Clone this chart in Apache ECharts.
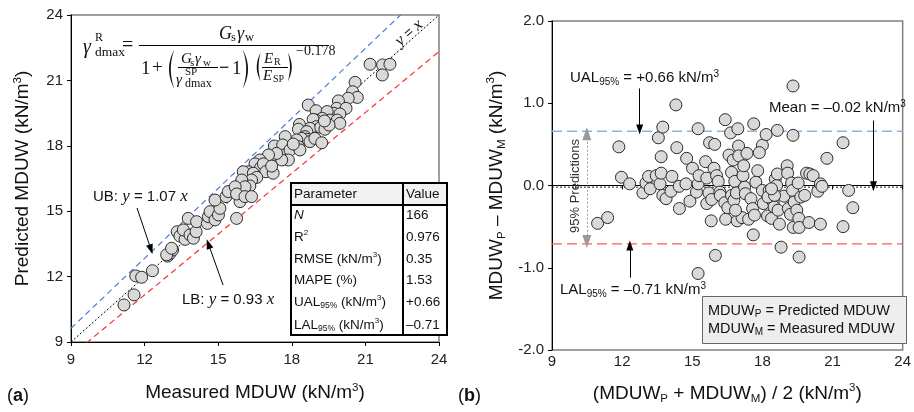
<!DOCTYPE html>
<html>
<head>
<meta charset="utf-8">
<script src="https://cdn.jsdelivr.net/npm/echarts@6/dist/echarts.min.js"></script>
<style>
  html, body { margin: 0; padding: 0; background: #fff; }
  #chart { width: 914px; height: 412px; }
</style>
</head>
<body>
<div id="chart"></div>
<script>
// ---- (a) predicted vs measured MDUW (kN/m3) ----
const measured = [
  11.16, 11.57, 11.64, 11.88, 12.32, 12.94, 13.04, 13.14, 12.90, 13.10,
  13.33, 13.44, 13.65, 13.58, 13.78, 13.85, 13.99, 14.10, 14.12, 14.56,
  14.60, 14.67, 14.87, 15.01, 15.07, 14.87, 15.32, 15.41, 15.75, 15.89,
  21.19, 21.70, 22.00, 21.69, 20.58, 20.48, 20.67, 20.30, 19.90, 19.83,
  20.21, 19.72, 19.96, 18.67, 18.99, 19.08, 19.44, 19.55, 19.85, 19.96,
  19.24, 18.98, 18.87, 19.01, 18.74, 18.31, 18.27, 18.61, 19.18, 19.35,
  19.52, 19.33, 18.54, 18.61, 18.40, 18.20, 18.74, 18.94, 19.22, 17.73,
  17.29, 17.63, 17.68, 17.93, 18.27, 18.33, 18.06, 17.86, 17.59, 17.11,
  17.38, 17.05, 16.70, 16.50, 16.23, 16.02, 16.73, 16.84, 16.94, 17.24,
  17.18, 16.43, 16.57, 16.36, 16.29, 15.96, 16.09, 15.69, 15.75, 16.09,
  16.36
];
const predicted = [
  10.70, 11.16, 12.03, 11.97, 12.27, 12.94, 13.07, 13.22, 13.00, 13.30,
  14.06, 13.86, 13.71, 14.14, 14.67, 13.91, 13.76, 14.06, 14.52, 14.44,
  14.75, 14.98, 14.60, 14.83, 15.13, 15.51, 15.67, 15.90, 14.67, 15.44,
  21.74, 21.71, 21.74, 21.25, 20.91, 20.48, 20.22, 20.18, 20.06, 19.72,
  19.72, 19.49, 19.46, 19.87, 19.61, 19.11, 19.57, 19.18, 19.18, 19.03,
  19.26, 19.18, 19.21, 18.88, 18.80, 18.98, 18.76, 18.65, 18.85, 18.76,
  18.95, 19.14, 18.42, 18.30, 18.34, 18.27, 18.19, 18.34, 18.14, 18.42,
  17.99, 18.04, 17.58, 17.81, 17.96, 17.81, 18.08, 17.35, 17.35, 17.43,
  17.65, 17.58, 17.35, 17.17, 16.81, 16.81, 17.00, 17.17, 16.81, 16.74,
  17.07, 16.74, 16.55, 16.43, 16.16, 16.43, 16.12, 16.12, 15.79, 15.67,
  15.67
];
const upperSlope = 1.07;   // UB: y = 1.07x
const lowerSlope = 0.93;   // LB: y = 0.93x

// ---- (b) difference vs mean of predicted and measured ----
const avgMDUW = [
  11.86, 13.55, 13.74, 14.30, 14.34, 15.25, 15.74, 15.96, 16.41, 16.64,
  16.95, 16.98, 17.63, 18.00, 18.16, 18.64, 19.31, 19.31, 21.45,
  10.95, 11.38, 11.97, 12.32, 12.89, 13.02, 13.13, 13.20, 13.46, 13.62,
  13.67, 13.67, 13.74, 13.88, 14.09, 14.13, 14.44, 14.45, 14.76, 14.73,
  14.90, 15.01, 15.18, 15.25, 15.29, 15.25, 15.57, 15.62, 15.62, 15.71,
  15.81, 15.83, 15.93, 15.99, 16.04, 16.11, 16.18, 16.20, 16.43, 16.39,
  16.52, 16.57, 16.68, 16.75, 16.68, 16.78, 16.82, 16.89, 16.92, 16.99,
  17.13, 17.17, 17.20, 17.24, 17.27, 17.34, 17.41, 17.51, 17.58, 17.61,
  17.66, 17.72, 17.80, 17.87, 18.00, 18.04, 18.22, 18.29, 18.39, 18.46,
  18.50, 18.55, 18.61, 18.64, 18.67, 18.73, 18.80, 18.92, 19.06, 19.08,
  19.11, 19.20, 19.25, 19.29, 19.32, 19.36, 19.47, 19.53, 19.56, 19.57,
  19.57, 19.64, 19.81, 19.89, 20.03, 20.17, 19.99, 20.37, 20.48, 20.55,
  20.48, 20.76, 21.45, 21.69, 21.87, 16.85, 18.24, 18.52, 18.39
];
const diffMDUW = [
  0.47, 0.58, 0.71, 0.98, 0.46, 0.69, 0.52, 0.50, 0.80, 0.64,
  0.69, 0.48, 0.75, 0.49, 0.62, 0.67, 1.21, 0.61, 0.52,
  -0.46, -0.39, 0.10, 0.02, -0.09, 0.03, 0.11, -0.04, 0.12, 0.02,
  0.35, 0.15, -0.12, -0.16, -0.07, 0.11, -0.01, -0.28, 0.33, 0.02,
  -0.19, 0.21, -0.08, 0.02, 0.12, -1.07, 0.29, 0.09, -0.22, -0.09,
  -0.43, -0.17, 0.21, -0.85, 0.12, 0.05, -0.08, -0.12, -0.41, -0.21,
  -0.27, 0.37, 0.16, 0.31, -0.12, -0.18, 0.05, -0.09, -0.43, 0.36,
  -0.39, 0.12, 0.24, -0.02, -0.10, 0.39, -0.41, -0.16, -0.28, -0.60,
  -0.36, 0.04, 0.18, 0.40, -0.06, -0.22, -0.37, -0.06, -0.40, -0.20,
  -0.26, 0.08, 0.00, 0.14, -0.30, -0.47, -0.75, -0.13, 0.24, 0.15,
  -0.28, -0.35, 0.03, -0.06, -0.51, -0.20, -0.30, 0.03, -0.40, -0.51,
  -0.87, -0.14, -0.12, 0.15, 0.14, 0.12, -0.45, -0.07, 0.02, -0.01,
  -0.47, 0.33, -0.50, -0.06, -0.27, -0.30, -0.14, -0.12, -0.04
];
const meanDiff = -0.02;
const upperAgreement = 0.66;
const lowerAgreement = -0.71;

// ---- statistics table ----
const tableParams = ['{i|N}', 'R{sup|2}', 'RMSE (kN/m{sup|3})', 'MAPE (%)',
                     'UAL{sub|95%} (kN/m{sup|3})', 'LAL{sub|95%} (kN/m{sup|3})'];
const tableValues = ['166', '0.976', '0.35', '1.53', '+0.66', '\u20130.71'];

const SANS = 'Liberation Sans, Arial, sans-serif';
const SERIF = 'Liberation Serif, Times New Roman, serif';

const zip = (a, b) => a.map((v, i) => [v, b[i]]);
const axisMin = 9, axisMax = 24;

const chart = echarts.init(document.getElementById('chart'), null, { renderer: 'canvas' });

function axisCommon(extra) {
  return Object.assign({
    axisLine: { show: true, lineStyle: { color: '#000', width: 1 } },
    axisTick: { show: true, inside: false, length: 4, lineStyle: { color: '#000' } },
    splitLine: { show: false },
    axisLabel: { fontFamily: SANS, fontSize: 15, color: '#222' },
    nameLocation: 'middle',
    nameTextStyle: {
      fontFamily: SANS, fontSize: 19, color: '#111',
      rich: {
        sup: { fontSize: 11.5, verticalAlign: 'top', lineHeight: 21, fontFamily: SANS, color: '#111' },
        sub: { fontSize: 11.5, verticalAlign: 'bottom', lineHeight: 23, fontFamily: SANS, color: '#111' }
      }
    }
  }, extra);
}

// ---------- graphic helpers ----------
function txt(text, x, y, size, opt) {
  opt = opt || {};
  return {
    type: 'text', z: 100, silent: true,
    x: x, y: y, rotation: opt.rotation || 0,
    style: {
      text: text, fontSize: size,
      fontFamily: opt.family || SANS,
      fontStyle: opt.italic ? 'italic' : 'normal',
      fontWeight: opt.bold ? 'bold' : 'normal',
      fill: opt.color || '#111',
      align: opt.align || 'left',
      verticalAlign: 'middle',
      rich: opt.rich
    }
  };
}
function hline(x1, x2, y, w, color) {
  return { type: 'line', z: 100, silent: true,
    shape: { x1: x1, y1: y, x2: x2, y2: y },
    style: { stroke: color || '#000', lineWidth: w || 1 } };
}
function vline(x, y1, y2, w, color) {
  return { type: 'line', z: 100, silent: true,
    shape: { x1: x, y1: y1, x2: x, y2: y2 },
    style: { stroke: color || '#000', lineWidth: w || 1 } };
}
// crescent-shaped bracket spanning [x, x+w] horizontally and [top, bot] vertically
function paren(x, top, bot, w, open) {
  const n = 16, pts = [];
  const edge = open ? x + w : x;
  const outer = open ? x - 1 : x + w + 1;
  const inner = open ? x + 2.6 : x + w - 2.6;
  const q = (a, c, b, t) => (1 - t) * (1 - t) * a + 2 * t * (1 - t) * c + t * t * b;
  for (let k = 0; k <= n; k++) {
    const t = k / n;
    pts.push([q(edge, outer, edge, t), q(top, (top + bot) / 2, bot, t)]);
  }
  for (let k = n; k >= 0; k--) {
    const t = k / n;
    pts.push([q(edge, inner, edge, t), q(top + 0.4, (top + bot) / 2, bot - 0.4, t)]);
  }
  return { type: 'polygon', z: 100, silent: true, shape: { points: pts }, style: { fill: '#111' } };
}

const graphics = [];

// Formula for the predicted maximum dry unit weight
const F = SERIF;
graphics.push(
  txt('\u03b3', 83, 48, 20, { family: F, italic: true }),
  txt('R', 95, 38, 12, { family: F }),
  txt('dmax', 95, 52, 13.5, { family: F }),
  txt('=', 122, 46, 20, { family: F }),
  hline(139, 329, 45.5, 1),
  txt('G', 219, 34, 18, { family: F, italic: true }),
  txt('s', 231, 38, 12.5, { family: F }),
  txt('\u03b3', 237, 34, 18, { family: F, italic: true }),
  txt('w', 245, 38, 12.5, { family: F }),
  txt('1', 141, 69, 19, { family: F }),
  txt('+', 152, 68, 19, { family: F }),
  paren(165, 50, 88, 9, true),
  txt('G', 181, 59, 15, { family: F, italic: true }),
  txt('s', 190, 63, 11, { family: F }),
  txt('\u03b3', 195, 59, 15, { family: F, italic: true }),
  txt('w', 203, 63, 11, { family: F }),
  hline(178, 218, 67.5, 1),
  txt('\u03b3', 176, 80, 15, { family: F, italic: true }),
  txt('SP', 185, 72, 11, { family: F }),
  txt('dmax', 185, 84, 12, { family: F }),
  txt('\u2212', 219, 68, 18, { family: F, bold: true }),
  txt('1', 232, 69, 19, { family: F }),
  paren(243, 50, 88, 9, false),
  paren(254, 53, 81, 6.5, true),
  txt('E', 264, 59, 15, { family: F, italic: true }),
  txt('R', 274, 62, 10, { family: F }),
  hline(262, 288, 67.5, 1),
  txt('E', 263, 76, 15, { family: F, italic: true }),
  txt('SP', 273, 79, 10, { family: F }),
  paren(288, 53, 81, 6.5, false),
  txt('\u22120.178', 296, 51, 14, { family: F })
);

// Line labels (a)
const richEq = {
  i: { fontFamily: SERIF, fontStyle: 'italic', fontSize: 17, color: '#111' }
};
graphics.push(
  txt('UB: {i|y} = 1.07 {i|x}', 93, 197, 15, { rich: richEq }),
  txt('LB: {i|y} = 0.93 {i|x}', 182, 300, 15, { rich: richEq }),
  txt('{i|y} = {i|x}', 409, 33, 14, { align: 'center', rotation: Math.atan(21.8 / 24.53), rich: richEq })
);

// Statistics table
const tX = 291, tY = 183, tW = 156, tH = 152, tSplit = 403, tHead = 205;
const rowY = [215, 237, 259, 280, 302, 325];
graphics.push(
  { type: 'rect', z: 99, silent: true, shape: { x: tX, y: tY, width: tW, height: tH },
    style: { fill: '#fff', stroke: '#000', lineWidth: 2 } },
  { type: 'rect', z: 99, silent: true, shape: { x: tX + 1, y: tY + 1, width: tW - 2, height: tHead - tY - 1 },
    style: { fill: '#f2f2f2' } },
  vline(tSplit, tY, tY + tH, 2),
  hline(tX, tX + tW, tHead, 2),
  txt('Parameter', tX + 3, 194.5, 13.5),
  txt('Value', tSplit + 3, 194.5, 13.5)
);
const richTable = {
  sup: { fontSize: 8, verticalAlign: 'top', lineHeight: 16, fontFamily: SANS, color: '#111' },
  sub: { fontSize: 8.5, verticalAlign: 'bottom', lineHeight: 14, fontFamily: SANS, color: '#111' },
  i: { fontSize: 13.5, fontStyle: 'italic', fontFamily: SANS, color: '#111' }
};
tableParams.forEach((p, k) => {
  graphics.push(txt(p, tX + 3, rowY[k], 13.5, { rich: richTable }));
  graphics.push(txt(tableValues[k], tSplit + 3, rowY[k], 13.5));
});

// Panel (b) annotations
const richAnn = {
  sub: { fontSize: 10, verticalAlign: 'bottom', lineHeight: 17, fontFamily: SANS, color: '#111' },
  sup: { fontSize: 10, verticalAlign: 'top', lineHeight: 18, fontFamily: SANS, color: '#111' }
};
const boldB = { b: { fontWeight: 'bold', fontSize: 18, fontFamily: SANS, color: '#111' } };
graphics.push(
  txt('UAL{sub|95%} = +0.66 kN/m{sup|3}', 570, 78, 15, { rich: richAnn }),
  txt('Mean = \u20130.02 kN/m{sup|3}', 769, 108, 15, { rich: richAnn }),
  txt('LAL{sub|95%} = \u20130.71 kN/m{sup|3}', 560, 290, 15, { rich: richAnn }),
  txt('95% Predictions', 575, 186, 13, { align: 'center', rotation: Math.PI / 2, color: '#333' }),
  { type: 'rect', z: 100, silent: true, shape: { x: 702.5, y: 296.5, width: 204, height: 47 },
    style: { fill: '#eeeeee', stroke: '#666', lineWidth: 1 } },
  txt('MDUW{sub|P} = Predicted MDUW', 708, 311, 14.5, { rich: richAnn }),
  txt('MDUW{sub|M} = Measured MDUW', 708, 329, 14.5, { rich: richAnn }),
  txt('({b|a})', 7, 396, 18, { rich: boldB }),
  txt('({b|b})', 458, 396, 18, { rich: boldB })
);

const refLine = (data, color, width, dash, xi, yi) => ({
  type: 'line', xAxisIndex: xi, yAxisIndex: yi, data: data,
  symbol: 'none', silent: true, animation: false, z: 2,
  lineStyle: { color: color, width: width, type: dash }
});

const arrowStyle = {
  silent: true, animation: false,
  symbol: ['none', 'triangle'], symbolSize: [7, 10],
  lineStyle: { color: '#000', width: 1, type: 'solid' },
  itemStyle: { color: '#000' },
  label: { show: false }, emphasis: { disabled: true }
};

const option = {
  animation: false,
  grid: [
    { left: 71, top: 15, width: 368, height: 327, show: true, borderColor: '#808080', borderWidth: 1.5, backgroundColor: 'transparent' },
    { left: 552, top: 21, width: 359, height: 329, show: true, borderColor: '#808080', borderWidth: 1.5, backgroundColor: 'transparent' }
  ],
  xAxis: [
    axisCommon({ gridIndex: 0, type: 'value', min: axisMin, max: axisMax, interval: 3,
      name: 'Measured MDUW (kN/m{sup|3})', nameGap: 40,
      axisLabel: { fontFamily: SANS, fontSize: 15, color: '#222', margin: 10 } }),
    axisCommon({ gridIndex: 1, type: 'value', min: axisMin, max: axisMax, interval: 3,
      name: '(MDUW{sub|P} + MDUW{sub|M}) / 2 (kN/m{sup|3})', nameGap: 32,
      axisLabel: { fontFamily: SANS, fontSize: 15, color: '#222', margin: 4 } })
  ],
  yAxis: [
    axisCommon({ gridIndex: 0, type: 'value', min: axisMin, max: axisMax, interval: 3,
      name: 'Predicted MDUW (kN/m{sup|3})', nameGap: 38,
      axisLabel: { fontFamily: SANS, fontSize: 15, color: '#222', margin: 8 } }),
    axisCommon({ gridIndex: 1, type: 'value', min: -2, max: 2, interval: 1,
      name: 'MDUW{sub|P} \u2013 MDUW{sub|M} (kN/m{sup|3})', nameGap: 44,
      axisLabel: { fontFamily: SANS, fontSize: 15, color: '#222', margin: 8,
        formatter: v => v.toFixed(1) } })
  ],
  series: [
    refLine([[axisMin, axisMin], [axisMax, axisMax]], '#000', 1, [2, 2], 0, 0),
    refLine([[axisMin, axisMin * upperSlope], [axisMax, axisMax * upperSlope]], '#4a7fd0', 1.2, [6, 4], 0, 0),
    refLine([[axisMin, axisMin * lowerSlope], [axisMax, axisMax * lowerSlope]], '#ff2e2e', 1.2, [6, 4], 0, 0),
    {
      type: 'scatter', xAxisIndex: 0, yAxisIndex: 0, z: 3,
      data: zip(measured, predicted), symbolSize: 12,
      itemStyle: { color: '#d9d9d9', borderColor: '#2a2a2a', borderWidth: 1, opacity: 1 },
      markLine: Object.assign({}, arrowStyle, {
        data: [
          [{ coord: [11.69, 15.15] }, { coord: [12.26, 13.25] }],
          [{ coord: [15.20, 11.61] }, { coord: [14.60, 13.50] }]
        ]
      })
    },
    refLine([[axisMin, meanDiff], [axisMax, meanDiff]], '#222', 1, [2, 2], 1, 1),
    refLine([[axisMin, upperAgreement], [axisMax, upperAgreement]], '#8fb2df', 1.6, [10, 5], 1, 1),
    refLine([[axisMin, lowerAgreement], [axisMax, lowerAgreement]], '#ff5a5a', 1.4, [10, 5], 1, 1),
    {
      type: 'scatter', xAxisIndex: 1, yAxisIndex: 1, z: 3,
      data: zip(avgMDUW, diffMDUW), symbolSize: 12,
      itemStyle: { color: '#d9d9d9', borderColor: '#2a2a2a', borderWidth: 1, opacity: 1 },
      markLine: Object.assign({}, arrowStyle, {
        data: [
          [{ coord: [12.75, 1.18] }, { coord: [12.75, upperAgreement + 0.02] }],
          [{ coord: [22.75, 0.79] }, { coord: [22.75, meanDiff + 0.01] }],
          [{ coord: [12.33, -1.12] }, { coord: [12.33, lowerAgreement - 0.02] }]
        ]
      })
    },
    {
      type: 'scatter', xAxisIndex: 1, yAxisIndex: 1, data: [], silent: true,
      markLine: {
        silent: true, animation: false,
        symbol: ['triangle', 'triangle'], symbolSize: [9, 13],
        lineStyle: { color: '#999', width: 1, type: [2, 2] },
        itemStyle: { color: '#8c8c8c' },
        label: { show: false }, emphasis: { disabled: true },
        data: [[{ coord: [10.49, upperAgreement - 0.03] }, { coord: [10.49, lowerAgreement + 0.03] }]]
      }
    }
  ],
  graphic: graphics
};

chart.setOption(option);
</script>
</body>
</html>
